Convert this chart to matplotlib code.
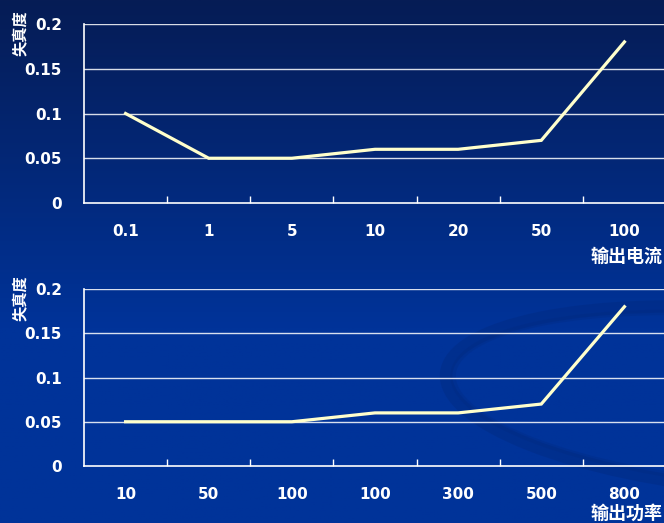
import matplotlib
matplotlib.use("Agg")
import matplotlib.pyplot as plt
from matplotlib.patches import Ellipse
import numpy as np

plt.rcParams['font.family'] = ['Noto Sans CJK SC', 'DejaVu Sans']

current_labels = ["0.1", "1", "5", "10", "20", "50", "100"]
current_values = [0.10, 0.05, 0.05, 0.06, 0.06, 0.07, 0.18]
power_labels = ["10", "50", "100", "100", "300", "500", "800"]
power_values = [0.05, 0.05, 0.05, 0.06, 0.06, 0.07, 0.18]
y_ticks = [0, 0.05, 0.1, 0.15, 0.2]
y_tick_labels = ["0", "0.05", "0.1", "0.15", "0.2"]

W, H = 664, 523
fig = plt.figure(figsize=(W / 100, H / 100), dpi=100)

# background gradient
bg = fig.add_axes([0, 0, 1, 1], zorder=-10)
top = np.array([0x06, 0x1c, 0x55]) / 255
bot = np.array([0x00, 0x33, 0x99]) / 255
t = np.linspace(0, 1, 256)[:, None]
f = np.clip(t * 1.6, 0, 1)
grad = top * (1 - f) + bot * f
bg.imshow(grad[:, None, :].repeat(2, axis=1), aspect='auto', extent=[0, W, H, 0])
bg.add_patch(Ellipse((750, 400), 610, 180, angle=5, fill=False,
                     edgecolor='#00287c', lw=9, alpha=0.35))
bg.add_patch(Ellipse((750, 400), 596, 168, angle=5, fill=False,
                     edgecolor='#00287c', lw=4, alpha=0.25))
bg.set_xlim(0, W)
bg.set_ylim(H, 0)
bg.axis('off')

ylab_font = dict(color='white', fontsize=11, fontweight='bold')
tick_font = dict(color='white', fontsize=11, fontweight='bold',
                 family=['DejaVu Sans'])

def make_axes(rect, labels, values, xlabel, xlabel_pos):
    ax = fig.add_axes(rect)
    ax.set_facecolor('none')
    x = np.arange(len(labels))
    ax.plot(x, values, color='#FFFFCC', lw=2.3, solid_joinstyle='miter', zorder=5)
    ax.set_xlim(-0.5, len(labels) - 0.5)
    ax.set_ylim(0, 0.2)
    ax.set_yticks(y_ticks)
    ax.set_yticklabels(y_tick_labels, **tick_font)
    ax.tick_params(axis='y', length=0, pad=16)
    ax.set_xticks(x)
    ax.set_xticklabels(labels, **tick_font)
    ax.tick_params(axis='x', which='major', length=0, pad=15)
    ax.set_xticks(np.arange(len(labels) - 1) + 0.5, minor=True)
    ax.tick_params(axis='x', which='minor', direction='in', length=5,
                   color='white', width=1)
    for yv in y_ticks[1:]:
        ax.axhline(yv, color='white', lw=1, alpha=0.85, zorder=1)
    for s in ['top', 'right']:
        ax.spines[s].set_visible(False)
    for s in ['left', 'bottom']:
        ax.spines[s].set_color('white')
        ax.spines[s].set_linewidth(1.2)
    fig.text(xlabel_pos[0], xlabel_pos[1], xlabel, color='white', fontsize=13,
             fontweight='bold', ha='right', va='center')
    return ax

ax1 = make_axes([84 / W, 1 - 203 / H, 582 / W, 179 / H],
                current_labels, current_values, "输出电流", (662 / W, 1 - 256 / H))
ax2 = make_axes([84 / W, 1 - 466 / H, 582 / W, 177 / H],
                power_labels, power_values, "输出功率", (662 / W, 1 - 513 / H))

fig.text(20 / W, 1 - 33 / H, "失真度", rotation=90, ha='center', va='center', **ylab_font)
fig.text(20 / W, 1 - 298 / H, "失真度", rotation=90, ha='center', va='center', **ylab_font)

fig.savefig("out.png", dpi=100)
